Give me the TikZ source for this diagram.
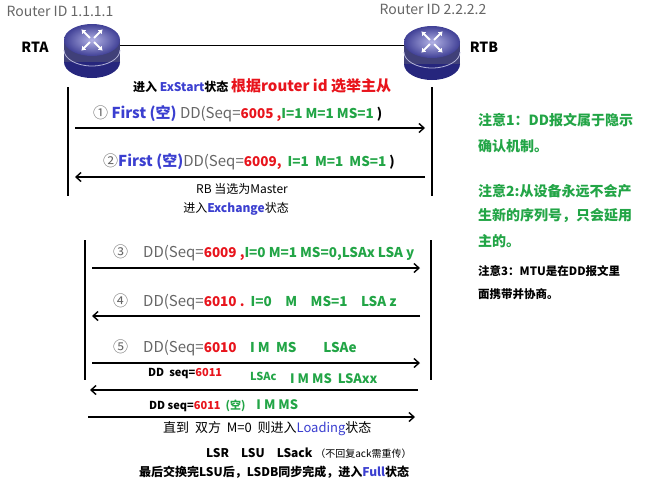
\documentclass[tikz,border=0pt]{standalone}
\usepackage{fontspec}
\setmainfont{Noto Sans CJK SC}
\usetikzlibrary{arrows.meta}
\definecolor{bl}{HTML}{3B3FD0}
\definecolor{rd}{HTML}{E8141C}
\definecolor{gr}{HTML}{22A546}
\definecolor{gy}{HTML}{666666}
\begin{document}
\begin{tikzpicture}[x=1pt,y=-1pt,
  lbl/.style={anchor=west,inner sep=0,font=\fontsize{13}{15}\selectfont},
  big/.style={anchor=west,inner sep=0,font=\fontsize{15}{17}\selectfont},
  msg/.style={line width=1.4pt,-{Straight Barb[length=5pt,width=9pt]}},
  life/.style={line width=1.4pt},
  note/.style={anchor=west,inner sep=0,font=\fontsize{14}{16}\selectfont\bfseries,text=gr},
  router/.pic={
    \fill[blue!40!black!85] (0,22) ellipse[x radius=28,y radius=16];
    \fill[blue!30!black!75] (-28,0) rectangle (28,22);
    \draw[blue!20!white!70!gray,line width=0.8pt] (-28,10) arc[start angle=180,end angle=0,x radius=28,y radius=16];
    \shade[inner color=blue!25!white!80!gray,outer color=blue!45!black!75] (0,0) ellipse[x radius=28,y radius=16];
    \foreach \r in {45,135,225,315}{
      \draw[white,line width=2pt,-{Latex[length=4pt,width=6pt]},rotate=\r] (3,0) -- (15,0);}
  }]
\useasboundingbox (0,0) rectangle (661,488);
\fill[white] (0,0) rectangle (661,488);
% routers
\coordinate (ra) at (92,45); \coordinate (rb) at (432,45);
\draw[line width=1pt] (ra) -- (rb);
\pic at (92,40) {router};
\pic at (432,42) {router};
\node[inner sep=0,font=\fontsize{14}{16}\selectfont,text=gy] (ida) at (60,11) {Router ID 1.1.1.1};
\node[inner sep=0,font=\fontsize{14}{16}\selectfont,text=gy] (idb) at (433,9) {Router ID 2.2.2.2};
\node[inner sep=0,font=\fontsize{14}{16}\selectfont\bfseries] (rta) at (35,47) {RTA};
\node[inner sep=0,font=\fontsize{14}{16}\selectfont\bfseries] (rtb) at (484,47) {RTB};
% lifelines
\coordinate (l1t) at (68,87); \coordinate (l1b) at (68,196);
\coordinate (r1t) at (432,87); \coordinate (r1b) at (432,196);
\coordinate (l2t) at (85,240); \coordinate (l2b) at (85,380);
\coordinate (r2t) at (431,240); \coordinate (r2b) at (431,380);
\draw[life] (l1t)--(l1b); \draw[life] (r1t)--(r1b);
\draw[life] (l2t)--(l2b); \draw[life] (r2t)--(r2b);
% header
\node[lbl,font=\fontsize{12}{14}\selectfont\bfseries] (ex) at (133,86) {进入 \textcolor{bl}{ExStart}状态 \fontsize{15}{17}\selectfont\textcolor{rd}{根据router id 选举主从}};
% msg 1
\coordinate (a1) at (75,128); \coordinate (b1) at (425,128);
\draw[msg] (a1)--(b1);
\node[big] (t1) at (93,114) {\textcolor{gy}{①} \textcolor{bl}{\bfseries First (空)} \textcolor{gy}{DD(Seq=}\fontsize{13.5}{15}\selectfont\bfseries\textcolor{rd}{6005} \textcolor{rd}{,}\textcolor{gr}{I=1 M=1 MS=1} )};
% msg 2
\coordinate (a2) at (425,177); \coordinate (b2) at (75,177);
\draw[msg] (a2)--(b2);
\node[big] (t2) at (103,162) {\textcolor{gy}{②}\textcolor{bl}{\bfseries First (空)}\textcolor{gy}{DD(Seq=}\fontsize{13.5}{15}\selectfont\bfseries\textcolor{rd}{6009,}\ \ \textcolor{gr}{I=1\ \ M=1\ \ MS=1} )};
\node[inner sep=0,font=\fontsize{12}{14}\selectfont] (rbm) at (242,189) {RB 当选为Master};
\node[inner sep=0,font=\fontsize{12}{14}\selectfont] (exc) at (236,209) {进入\textcolor{bl}{\bfseries Exchange}状态};
% msg 3
\coordinate (a3) at (92,268); \coordinate (b3) at (420,268);
\draw[msg] (a3)--(b3);
\node[big] (t3) at (113,253) {\textcolor{gy}{③}\quad\textcolor{gy}{DD(Seq=}\fontsize{13.5}{15}\selectfont\bfseries\textcolor{rd}{6009 ,}\textcolor{gr}{I=0 M=1 MS=0,LSAx LSA y}};
% msg 4
\coordinate (a4) at (420,316); \coordinate (b4) at (92,316);
\draw[msg] (a4)--(b4);
\node[big] (t4) at (113,302) {\textcolor{gy}{④}\quad\textcolor{gy}{DD(Seq=}\fontsize{13.5}{15}\selectfont\bfseries\textcolor{rd}{6010 .}\ \ \textcolor{gr}{I=0\quad M\quad MS=1\quad LSA z}};
% msg 5
\coordinate (a5) at (92,363); \coordinate (b5) at (420,363);
\draw[msg] (a5)--(b5);
\node[big] (t5) at (113,348) {\textcolor{gy}{⑤}\quad\textcolor{gy}{DD(Seq=}\fontsize{13.5}{15}\selectfont\bfseries\textcolor{rd}{6010}\quad\textcolor{gr}{I\ M\ \ MS\qquad LSAe}};
% msg 6
\coordinate (a6) at (418,390); \coordinate (b6) at (90,390);
\draw[msg] (a6)--(b6);
\node[lbl,font=\fontsize{11}{13}\selectfont\bfseries] (t6a) at (148,374) {DD\ \ seq=\textcolor{rd}{6011}};
\node[lbl,font=\fontsize{11}{13}\selectfont\bfseries,text=gr] (t6b) at (250,376) {LSAc};
\node[lbl,font=\fontsize{13}{15}\selectfont\bfseries,text=gr] (t6c) at (290,379) {I M MS\ \ LSAxx};
% msg 7
\coordinate (a7) at (88,417); \coordinate (b7) at (415,417);
\draw[msg] (a7)--(b7);
\node[lbl,font=\fontsize{11}{13}\selectfont\bfseries] (t7) at (149,406) {DD seq=\textcolor{rd}{6011}\ \ \textcolor{gr}{(空)\quad \fontsize{13}{15}\selectfont I M MS}};
\node[lbl] (ld) at (163,429) {直到\ \ 双方\ \ M=0\ \ 则进入\textcolor{bl}{Loading}状态};
\node[lbl,font=\fontsize{12}{14}\selectfont\bfseries] (lsr) at (206,453) {LSR\quad LSU\quad LSack \mdseries\fontsize{10}{12}\selectfont（不回复ack需重传）};
\node[lbl,font=\fontsize{12}{14}\selectfont\bfseries] (fin) at (139,472) {最后交换完LSU后，LSDB同步完成，进入\textcolor{bl}{Full}状态};
% notes
\node[note] (n1a) at (478,120) {注意1：DD报文属于隐示};
\node[note] (n1b) at (478,146) {确认机制。};
\node[note] (n2a) at (478,191) {注意2:从设备永远不会产};
\node[note] (n2b) at (478,216) {生新的序列号，只会延用};
\node[note] (n2c) at (478,241) {主的。};
\node[note,text=black,font=\fontsize{11.5}{13}\selectfont\bfseries] (n3a) at (478,271) {注意3：MTU是在DD报文里};
\node[note,text=black,font=\fontsize{11.5}{13}\selectfont\bfseries] (n3b) at (478,294) {面携带并协商。};
\end{tikzpicture}
\end{document}
